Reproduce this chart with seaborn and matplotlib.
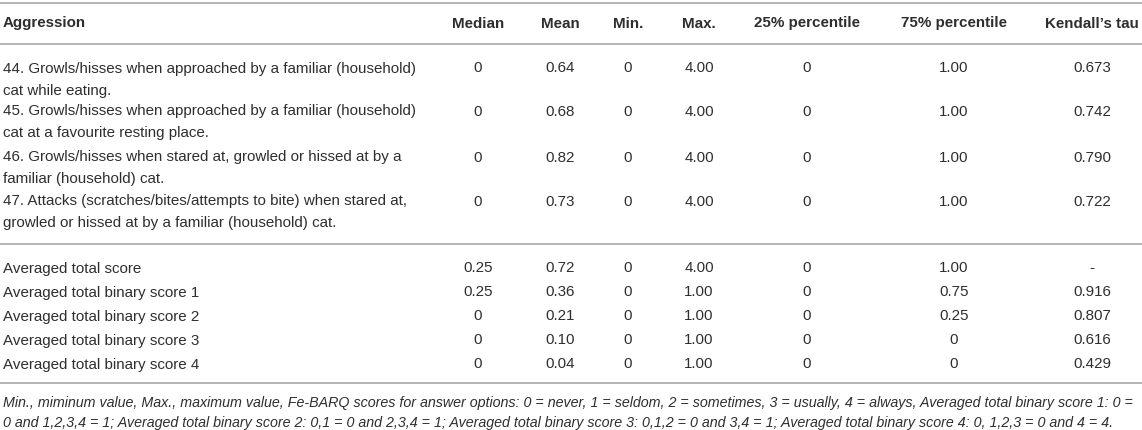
import matplotlib
matplotlib.use("Agg")
import matplotlib.pyplot as plt
import seaborn as sns
import pandas as pd

sns.set_theme(style="white")
plt.rcParams['font.family'] = ['Liberation Sans', 'DejaVu Sans']

columns = ["Aggression", "Median", "Mean", "Min.", "Max.", "25% percentile", "75% percentile", "Kendall\u2019s tau"]
items = [
    "44. Growls/hisses when approached by a familiar (household)\ncat while eating.",
    "45. Growls/hisses when approached by a familiar (household)\ncat at a favourite resting place.",
    "46. Growls/hisses when stared at, growled or hissed at by a\nfamiliar (household) cat.",
    "47. Attacks (scratches/bites/attempts to bite) when stared at,\ngrowled or hissed at by a familiar (household) cat.",
]
item_median = ["0", "0", "0", "0"]
item_mean = ["0.64", "0.68", "0.82", "0.73"]
item_min = ["0", "0", "0", "0"]
item_max = ["4.00", "4.00", "4.00", "4.00"]
item_p25 = ["0", "0", "0", "0"]
item_p75 = ["1.00", "1.00", "1.00", "1.00"]
item_tau = ["0.673", "0.742", "0.790", "0.722"]

totals = ["Averaged total score", "Averaged total binary score 1", "Averaged total binary score 2",
          "Averaged total binary score 3", "Averaged total binary score 4"]
tot_median = ["0.25", "0.25", "0", "0", "0"]
tot_mean = ["0.72", "0.36", "0.21", "0.10", "0.04"]
tot_min = ["0", "0", "0", "0", "0"]
tot_max = ["4.00", "1.00", "1.00", "1.00", "1.00"]
tot_p25 = ["0", "0", "0", "0", "0"]
tot_p75 = ["1.00", "0.75", "0.25", "0", "0"]
tot_tau = ["-", "0.916", "0.807", "0.616", "0.429"]

footnote = ["Min., miminum value, Max., maximum value, Fe-BARQ scores for answer options: 0 = never, 1 = seldom, "
            "2 = sometimes, 3 = usually, 4 = always, Averaged total binary score 1: 0 =",
            "0 and 1,2,3,4 = 1; Averaged total binary score 2: 0,1 = 0 and 2,3,4 = 1; Averaged total binary score 3: "
            "0,1,2 = 0 and 3,4 = 1; Averaged total binary score 4: 0, 1,2,3 = 0 and 4 = 4."]

items_df = pd.DataFrame({"label": items, "Median": item_median, "Mean": item_mean, "Min.": item_min,
                         "Max.": item_max, "25% percentile": item_p25, "75% percentile": item_p75,
                         "Kendall\u2019s tau": item_tau})
tot_df = pd.DataFrame({"label": totals, "Median": tot_median, "Mean": tot_mean, "Min.": tot_min,
                       "Max.": tot_max, "25% percentile": tot_p25, "75% percentile": tot_p75,
                       "Kendall\u2019s tau": tot_tau})

W, H = 1142, 430
fig = plt.figure(figsize=(W / 100, H / 100), dpi=100)
ax = fig.add_axes([0, 0, 1, 1])
ax.set_xlim(0, W)
ax.set_ylim(H, 0)
ax.axis("off")

txt = "#2e2e2e"
line_c = "#b5b5b5"
fs = 10.9
col_x = [3, 478, 560, 628, 699, 807, 954, 1092]

def hline(y):
    ax.plot([0, W], [y, y], color=line_c, lw=1.4, solid_capstyle="butt")

hline(2.5)
hline(43.5)
hline(244)
hline(383)

for i, c in enumerate(columns):
    ax.text(col_x[i], 22, c, ha="left" if i == 0 else "center", va="center_baseline",
            fontsize=fs, fontweight="bold", color=txt)

item_y = [67, 110, 156, 200]
line_gap = 22
for r, row in items_df.iterrows():
    y = item_y[r]
    for k, part in enumerate(row["label"].split("\n")):
        ax.text(col_x[0], y + k * line_gap, part, ha="left", va="center_baseline", fontsize=fs, color=txt)
    for j, c in enumerate(columns[1:], start=1):
        ax.text(col_x[j], y, row[c], ha="center", va="center_baseline", fontsize=fs, color=txt)

tot_y = [267, 291, 315, 339, 363]
for r, row in tot_df.iterrows():
    y = tot_y[r]
    ax.text(col_x[0], y, row["label"], ha="left", va="center_baseline", fontsize=fs, color=txt)
    for j, c in enumerate(columns[1:], start=1):
        ax.text(col_x[j], y, row[c], ha="center", va="center_baseline", fontsize=fs, color=txt)

for k, part in enumerate(footnote):
    ax.text(3, 401 + k * 20.5, part, ha="left", va="center_baseline", fontsize=10.3,
            style="italic", color=txt)

fig.savefig("out.png", dpi=100, facecolor="white")
